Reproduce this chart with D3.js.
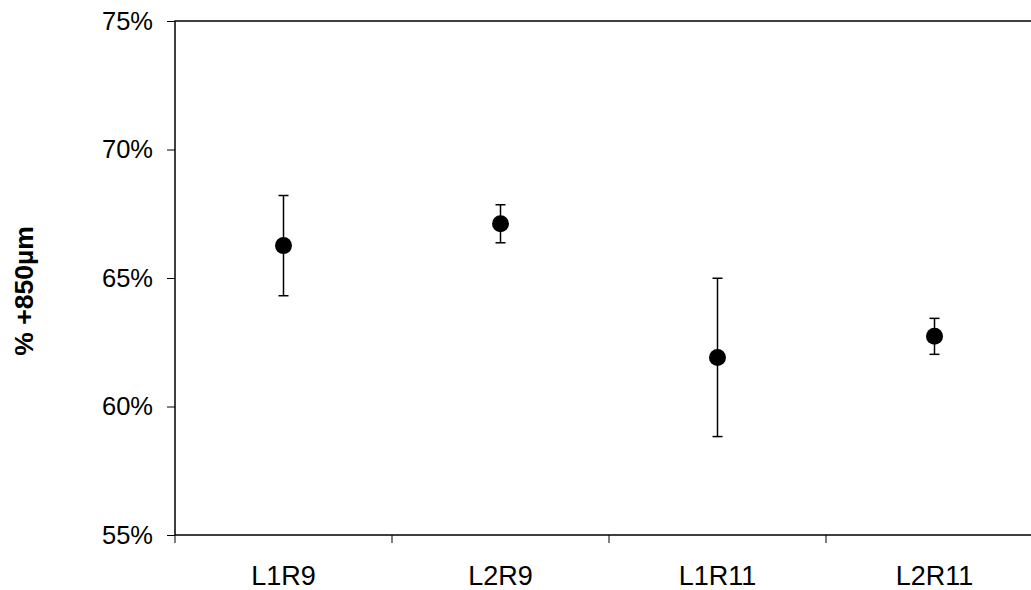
<!DOCTYPE html>
<html>
<head>
<meta charset="utf-8">
<script src="https://cdn.jsdelivr.net/npm/d3@7"></script>
<style>
  html, body { margin: 0; padding: 0; background: #fff; }
  svg { display: block; }
  text { font-family: "Liberation Sans", Arial, sans-serif; fill: #000; }
</style>
</head>
<body>
<svg id="chart" width="1031" height="590"></svg>
<script>
// Sample groups and their mean share of +850µm material (%) with ± spread
const categories = ["L1R9", "L2R9", "L1R11", "L2R11"];
const means = [66.26, 67.11, 61.91, 62.73];
const errors = [1.95, 0.74, 3.08, 0.70];
const yTicks = [55, 60, 65, 70, 75];
const yTitle = "% +850µm";

const svg = d3.select("#chart");
const plotLeft = 175, plotTop = 21, plotBottom = 535, plotRight = 1043;

const x = d3.scaleBand().domain(categories).range([plotLeft, plotRight]).padding(0);
const y = d3.scaleLinear().domain([55, 75]).range([plotBottom, plotTop]);

// Plot frame (right edge runs past the visible area)
svg.append("rect")
  .attr("x", plotLeft).attr("y", plotTop)
  .attr("width", plotRight - plotLeft).attr("height", plotBottom - plotTop)
  .attr("fill", "none").attr("stroke", "#000").attr("stroke-width", 1.5);

// Y axis
const yAxis = d3.axisLeft(y)
  .tickValues(yTicks)
  .tickSize(8)
  .tickPadding(14)
  .tickFormat(d => d + "%");
const gy = svg.append("g").attr("transform", `translate(${plotLeft},0)`).call(yAxis);
gy.select(".domain").remove();
gy.selectAll(".tick line").attr("stroke", "#000").attr("stroke-width", 1);
gy.selectAll(".tick text")
  .style("font-size", "25.5px")
  .style("font-family", "'Liberation Sans', Arial, sans-serif")
  .attr("fill", "#000");

// X axis: ticks at category boundaries, labels centred in each band
const boundaries = categories.map(c => x(c)).concat([plotRight]);
svg.append("g").selectAll("line")
  .data(boundaries)
  .join("line")
  .attr("x1", d => d).attr("x2", d => d)
  .attr("y1", plotBottom).attr("y2", plotBottom + 8)
  .attr("stroke", "#000").attr("stroke-width", 1);

svg.append("g").selectAll("text")
  .data(categories)
  .join("text")
  .attr("x", d => x(d) + x.bandwidth() / 2)
  .attr("y", 585)
  .attr("text-anchor", "middle")
  .style("font-size", "27px")
  .text(d => d);

// Y title
svg.append("text")
  .attr("transform", `translate(33, 291) rotate(-90)`)
  .attr("text-anchor", "middle")
  .style("font-size", "26.5px")
  .style("font-weight", "bold")
  .text(yTitle);

// Error bars
const data = categories.map((c, i) => ({ c, m: means[i], e: errors[i] }));
const cx = d => x(d.c) + x.bandwidth() / 2;
const eb = svg.append("g").attr("stroke", "#000").attr("stroke-width", 1.5);
eb.selectAll(".stem").data(data).join("line")
  .attr("x1", cx).attr("x2", cx)
  .attr("y1", d => y(d.m + d.e)).attr("y2", d => y(d.m - d.e));
eb.selectAll(".capTop").data(data).join("line")
  .attr("x1", d => cx(d) - 5).attr("x2", d => cx(d) + 5)
  .attr("y1", d => y(d.m + d.e)).attr("y2", d => y(d.m + d.e));
eb.selectAll(".capBot").data(data).join("line")
  .attr("x1", d => cx(d) - 5).attr("x2", d => cx(d) + 5)
  .attr("y1", d => y(d.m - d.e)).attr("y2", d => y(d.m - d.e));

// Mean markers
svg.append("g").selectAll("circle").data(data).join("circle")
  .attr("cx", cx)
  .attr("cy", d => y(d.m))
  .attr("r", 8.5)
  .attr("fill", "#000");
</script>
</body>
</html>
